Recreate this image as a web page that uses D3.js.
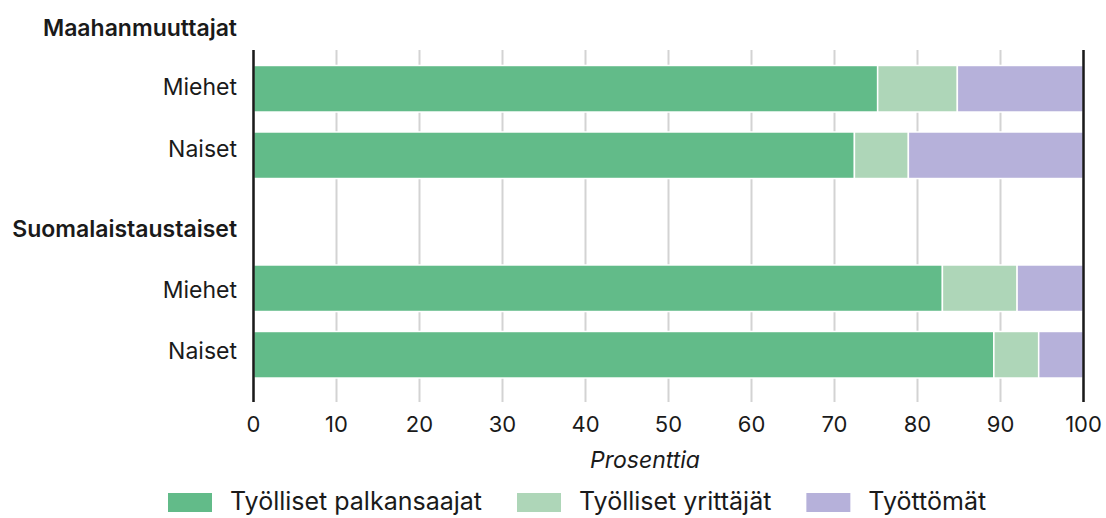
<!DOCTYPE html>
<meta charset="utf-8">
<script src="https://d3js.org/d3.v7.min.js"></script>
<style>
body { margin: 0; background: #fff; }
text { font-family: Inter, "Noto Sans", sans-serif; fill: #1a1a1a; }
</style>
<div id="chart"></div>
<script>
// rows: group headers and bars
var rows = ["h1", "m1", "n1", "h2", "m2", "n2"];
var rowLabels = ["Maahanmuuttajat", "Miehet", "Naiset", "Suomalaistaustaiset", "Miehet", "Naiset"];
var isHeader = [true, false, false, true, false, false];

var series = ["Työlliset palkansaajat", "Työlliset yrittäjät", "Työttömät"];
var colors = ["#62bb89", "#aed6b8", "#b6b1da"];

// shares per row (percent), bar rows only
var palkansaajat = [75.2, 72.4, 83.0, 89.2];
var yrittajat = [9.6, 6.5, 9.0, 5.4];
var tyottomat = [15.2, 21.1, 8.0, 5.4];
var barRows = ["m1", "n1", "m2", "n2"];

var xTicks = [0, 10, 20, 30, 40, 50, 60, 70, 80, 90, 100];
var xTitle = "Prosenttia";

var width = 1106, height = 518;
var plotTop = 50, tickEnd = 402;
// small vertical nudges of the row labels
var labelShift = [6, -1.5, -6.5, 7, 1.5, -4];

var svg = d3.select("#chart").append("svg")
  .attr("width", width).attr("height", height);

var x = d3.scaleLinear().domain([0, 100]).range([253.5, 1083.5]);
var y = d3.scaleBand().domain(rows).range([-11, 388])
  .paddingInner(0.3).paddingOuter(0.15);

// grid lines
svg.append("g").selectAll("line")
  .data(xTicks)
  .enter().append("line")
    .attr("x1", function(d) { return x(d); })
    .attr("x2", function(d) { return x(d); })
    .attr("y1", plotTop)
    .attr("y2", tickEnd)
    .attr("stroke", "#d3d3d3")
    .attr("stroke-width", 2);

// stacked data
var table = barRows.map(function(r, i) {
  return { row: r, a: palkansaajat[i], b: yrittajat[i], c: tyottomat[i] };
});
var stack = d3.stack().keys(["a", "b", "c"]);
var layers = stack(table);

svg.append("g").selectAll("g")
  .data(layers)
  .enter().append("g")
    .attr("fill", function(d, i) { return colors[i]; })
  .selectAll("rect")
  .data(function(d) { return d; })
  .enter().append("rect")
    .attr("x", function(d) { return x(d[0]); })
    .attr("width", function(d) { return x(d[1]) - x(d[0]); })
    .attr("y", function(d) { return y(d.data.row); })
    .attr("height", y.bandwidth())
    .attr("stroke", "#fff")
    .attr("stroke-width", 1.5);

// 0 and 100 lines on top
svg.append("g").selectAll("line")
  .data([0, 100])
  .enter().append("line")
    .attr("x1", function(d) { return x(d); })
    .attr("x2", function(d) { return x(d); })
    .attr("y1", plotTop)
    .attr("y2", tickEnd)
    .attr("stroke", "#1a1a1a")
    .attr("stroke-width", 2.5);

// row labels
svg.append("g").selectAll("text")
  .data(rows)
  .enter().append("text")
    .attr("x", 237)
    .attr("y", function(d, i) { return y(d) + y.bandwidth() / 2 + labelShift[i]; })
    .attr("dy", "0.35em")
    .attr("text-anchor", "end")
    .style("font-size", "23px")
    .style("font-weight", function(d, i) { return isHeader[i] ? 600 : 400; })
    .text(function(d, i) { return rowLabels[i]; });

// x tick labels
svg.append("g").selectAll("text")
  .data(xTicks)
  .enter().append("text")
    .attr("x", function(d) { return x(d); })
    .attr("y", 424)
    .attr("dy", "0.35em")
    .attr("text-anchor", "middle")
    .style("font-size", "22px")
    .text(function(d) { return d; });

svg.append("text")
  .attr("x", 645)
  .attr("y", 460)
  .attr("dy", "0.35em")
  .attr("text-anchor", "middle")
  .style("font-size", "23px")
  .style("font-style", "italic")
  .text(xTitle);

// legend
var legend = svg.append("g");
var lx = 168;
series.forEach(function(s, i) {
  legend.append("rect")
    .attr("x", lx).attr("y", 493)
    .attr("width", 44).attr("height", 19)
    .attr("fill", colors[i]);
  var t = legend.append("text")
    .attr("x", lx + 62).attr("y", 501)
    .attr("dy", "0.35em")
    .style("font-size", "25px")
    .text(s);
  lx = lx + 62 + t.node().getComputedTextLength() + 35;
});
</script>
